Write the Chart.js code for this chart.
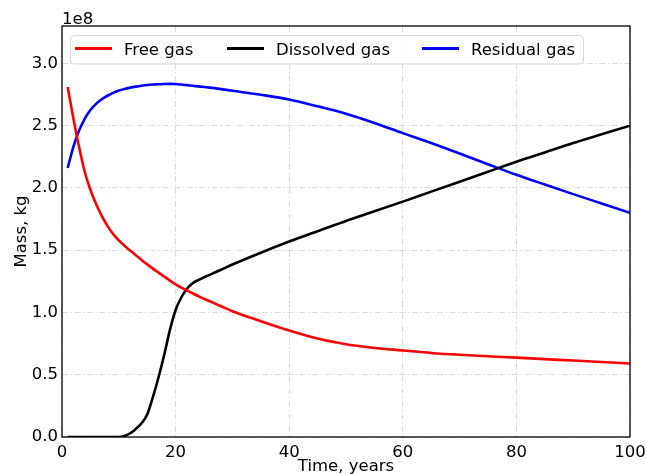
<!DOCTYPE html>
<html>
<head>
<meta charset="utf-8">
<script src="https://cdn.jsdelivr.net/npm/chart.js@4/dist/chart.umd.min.js"></script>
<style>
  body { margin: 0; background: #fff; }
  #wrap { width: 646px; height: 474px; }
</style>
</head>
<body>
<div id="wrap"><canvas id="chart" width="646" height="474"></canvas></div>
<script>
// time axis, years
const years = [1, 2, 3, 4, 5, 6, 7, 8, 9, 10, 11, 12, 13, 14, 15, 16, 17, 18, 19, 20, 21, 22, 23, 24,
    26, 28, 30, 35, 40, 45, 50, 55, 60, 65, 70, 75, 80, 85, 90, 95, 100]

// masses in units of 1e8 kg
const freeGas = [2.81, 2.56, 2.33, 2.13, 1.985, 1.87, 1.775, 1.695, 1.63, 1.578, 1.535, 1.497, 1.46, 1.422, 1.386, 1.352, 1.32, 1.288, 1.256, 1.226, 1.20, 1.177, 1.154, 1.131,
    1.09, 1.05, 1.01, 0.93, 0.855, 0.79, 0.745, 0.715, 0.695, 0.675, 0.66, 0.648, 0.637, 0.625, 0.614, 0.602, 0.59]
const dissolvedGas = [0, 0, 0, 0, 0, 0, 0, 0, 0, 0, 0.008, 0.03, 0.065, 0.11, 0.18, 0.32, 0.48, 0.66, 0.86, 1.02, 1.12, 1.19, 1.235, 1.26,
    1.302, 1.343, 1.385, 1.48, 1.57, 1.652, 1.735, 1.812, 1.89, 1.97, 2.05, 2.13, 2.21, 2.285, 2.36, 2.43, 2.50]
const residualGas = [2.16, 2.33, 2.46, 2.555, 2.625, 2.675, 2.712, 2.74, 2.763, 2.782, 2.795, 2.805, 2.813, 2.82, 2.826, 2.83, 2.832, 2.834, 2.835, 2.834, 2.83, 2.825, 2.82, 2.815,
    2.805, 2.793, 2.78, 2.748, 2.71, 2.655, 2.596, 2.522, 2.44, 2.36, 2.277, 2.19, 2.105, 2.027, 1.95, 1.875, 1.80]

const xTicks = [0, 20, 40, 60, 80, 100]
const yTicks = [0, 0.5, 1.0, 1.5, 2.0, 2.5, 3.0]

const FONT = 'DejaVu Sans'
const FS = 16.5

function series(label, values, color) {
    return {
        label: label,
        data: years.map((t, i) => ({x: t, y: values[i]})),
        borderColor: color,
        backgroundColor: color,
        borderWidth: 2.6,
        pointRadius: 0,
        cubicInterpolationMode: 'monotone',
        fill: false,
    }
}

const datasets = [
    series('Free gas', freeGas, '#ff0000'),
    series('Dissolved gas', dissolvedGas, '#000000'),
    series('Residual gas', residualGas, '#0000ff'),
]

// axis titles, offset text, legend box and frame (matplotlib look)
const extras = {
    id: 'extras',
    afterDatasetsDraw(chart) {
        const ctx = chart.ctx
        const a = chart.chartArea
        ctx.save()
        // frame
        ctx.strokeStyle = '#000'
        ctx.lineWidth = 1.3
        ctx.strokeRect(a.left, a.top, a.right - a.left, a.bottom - a.top)

        ctx.fillStyle = '#000'
        ctx.font = FS + 'px "' + FONT + '"'
        ctx.textBaseline = 'alphabetic'
        ctx.textAlign = 'left'
        ctx.fillText('1e8', 62, 24)

        ctx.textAlign = 'center'
        ctx.fillText('Time, years', (a.left + a.right) / 2, 471)

        ctx.save()
        ctx.translate(26, (a.top + a.bottom) / 2)
        ctx.rotate(-Math.PI / 2)
        ctx.fillText('Mass, kg', 0, 0)
        ctx.restore()

        // legend
        const bx = 70.5, by = 35.5, bw = 513, bh = 28.5, r = 4
        ctx.beginPath()
        ctx.moveTo(bx + r, by)
        ctx.arcTo(bx + bw, by, bx + bw, by + bh, r)
        ctx.arcTo(bx + bw, by + bh, bx, by + bh, r)
        ctx.arcTo(bx, by + bh, bx, by, r)
        ctx.arcTo(bx, by, bx + bw, by, r)
        ctx.closePath()
        ctx.fillStyle = 'rgba(255,255,255,0.8)'
        ctx.fill()
        ctx.strokeStyle = '#d6d6d6'
        ctx.lineWidth = 1
        ctx.stroke()

        const lineX = [75, 227, 422]
        ctx.textAlign = 'left'
        chart.data.datasets.forEach((ds, i) => {
            ctx.strokeStyle = ds.borderColor
            ctx.lineWidth = 3
            ctx.beginPath()
            ctx.moveTo(lineX[i], 48.5)
            ctx.lineTo(lineX[i] + 37, 48.5)
            ctx.stroke()
            ctx.fillStyle = '#000'
            ctx.fillText(ds.label, lineX[i] + 49, 54.5)
        })
        ctx.restore()
    }
}

const gridDash = [6, 2.5, 1.5, 2.5]

new Chart(document.getElementById('chart'), {
    type: 'line',
    data: { datasets: datasets },
    options: {
        responsive: false,
        animation: false,
        layout: { padding: { top: 26, right: 16, left: 0, bottom: 0 } },
        plugins: { legend: { display: false }, tooltip: { enabled: false } },
        scales: {
            x: {
                type: 'linear',
                min: 0,
                max: 100,
                afterFit: s => { s.height = 37; s.paddingLeft = 0; s.paddingRight = 0 },
                afterBuildTicks: s => { s.ticks = xTicks.map(v => ({value: v})) },
                ticks: {
                    font: { family: FONT, size: FS },
                    color: '#000',
                    padding: 6,
                    maxRotation: 0,
                    callback: v => String(v),
                },
                grid: { color: '#dcdcdc', lineWidth: 1, drawTicks: false },
                border: { display: false, dash: gridDash },
            },
            y: {
                type: 'linear',
                min: 0,
                max: 3.3,
                afterFit: s => { s.width = 62; s.paddingTop = 0; s.paddingBottom = 0 },
                afterBuildTicks: s => { s.ticks = yTicks.map(v => ({value: v})) },
                ticks: {
                    font: { family: FONT, size: FS },
                    color: '#000',
                    padding: 4,
                    callback: v => v.toFixed(1),
                },
                grid: { color: '#dcdcdc', lineWidth: 1, drawTicks: false },
                border: { display: false, dash: gridDash },
            }
        }
    },
    plugins: [extras]
});
</script>
</body>
</html>
